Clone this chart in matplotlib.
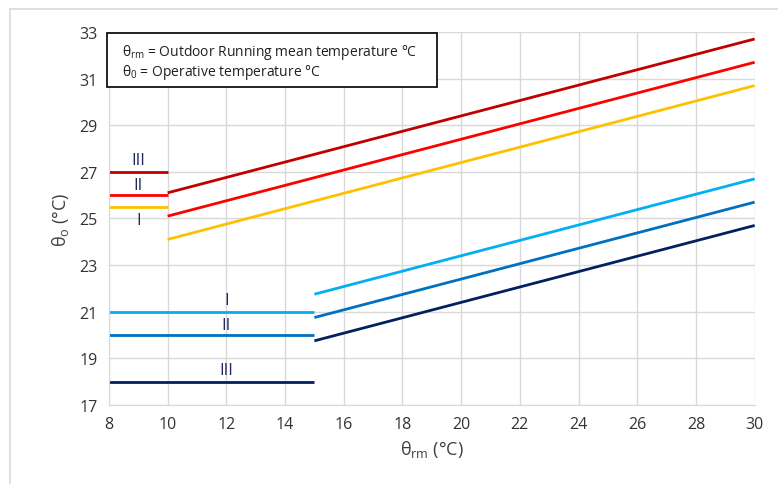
import matplotlib.pyplot as plt
from matplotlib.patches import Rectangle
from matplotlib.lines import Line2D
import numpy as np

plt.rcParams['font.family'] = ['Open Sans', 'DejaVu Sans']
plt.rcParams['mathtext.fontset'] = 'custom'
plt.rcParams['mathtext.rm'] = 'Open Sans'
plt.rcParams['mathtext.default'] = 'regular'

# 데이터: 상한선 (카테고리 III, II, I)
upper_x = [10, 30]
upper_iii = [26.1, 32.7]
upper_ii = [25.1, 31.7]
upper_i = [24.1, 30.7]
# 하한선 (I, II, III)
lower_x = [15, 30]
lower_i = [21.75, 26.7]
lower_ii = [20.75, 25.7]
lower_iii = [19.75, 24.7]
# 수평선
hup_x = [8, 10]
hup_vals = [27, 26, 25.5]      # III, II, I
hlow_x = [8, 15]
hlow_vals = [21, 20, 18]       # I, II, III

c_up = ['#C00000', '#FF0000', '#FFC000']
c_low = ['#00B0F0', '#0070C0', '#002060']
txt_c = '#1F2A5A'

fig = plt.figure(figsize=(7.78, 4.85), dpi=100)
ax = fig.add_axes([0.140, 0.163, 0.830, 0.769])

# 차트 테두리 (왼쪽, 위)
fig.add_artist(Line2D([10/778, 10/778], [0, 1 - 10/485], color='#D9D9D9', lw=1.2))
fig.add_artist(Line2D([10/778, 1], [1 - 10/485, 1 - 10/485], color='#D9D9D9', lw=1.2))

lw = 2.0
for ys, c in zip([upper_iii, upper_ii, upper_i], c_up):
    ax.plot(upper_x, ys, color=c, lw=lw, solid_capstyle='butt')
for v, c in zip(hup_vals, c_up):
    ax.plot(hup_x, [v, v], color=c, lw=lw, solid_capstyle='butt')
for ys, c in zip([lower_i, lower_ii, lower_iii], c_low):
    ax.plot(lower_x, ys, color=c, lw=lw, solid_capstyle='butt')
for v, c in zip(hlow_vals, c_low):
    ax.plot(hlow_x, [v, v], color=c, lw=lw, solid_capstyle='butt')

# 카테고리 라벨
for lab, y in zip(['III', 'II', 'I'], [27.5, 26.45, 24.95]):
    ax.text(9, y, lab, ha='center', va='center', fontsize=12, color=txt_c)
for lab, y in zip(['I', 'II', 'III'], [21.5, 20.45, 18.5]):
    ax.text(12, y, lab, ha='center', va='center', fontsize=12, color=txt_c)

ax.set_xlim(8, 30)
ax.set_ylim(17, 33)
ax.set_xticks(np.arange(8, 31, 2))
ax.set_yticks(np.arange(17, 34, 2))
ax.grid(True, color='#D9D9D9', lw=1)
ax.set_axisbelow(True)
for s in ['top', 'right']:
    ax.spines[s].set_visible(False)
for s in ['left', 'bottom']:
    ax.spines[s].set_color('#D9D9D9')
ax.tick_params(length=0, labelsize=11.5, labelcolor='#333333', pad=8)

ax.set_xlabel('θ$_{rm}$ (°C)', fontsize=13, color='#404040', labelpad=4)
ax.set_ylabel('θ$_{o}$ (°C)', fontsize=13, color='#404040', labelpad=6)

# 설명 박스
ax.add_patch(Rectangle((-0.003, 0.853), 0.511, 0.144, transform=ax.transAxes,
                       fc='white', ec='black', lw=1.2, zorder=5, clip_on=False))
ax.text(0.020, 0.947, 'θ$_{rm}$ = Outdoor Running mean temperature °C',
        transform=ax.transAxes, ha='left', va='center', fontsize=10,
        color='#202020', zorder=6)
ax.text(0.020, 0.893, 'θ$_{0}$ = Operative temperature °C',
        transform=ax.transAxes, ha='left', va='center', fontsize=10,
        color='#202020', zorder=6)

fig.savefig('out.png', dpi=100)
